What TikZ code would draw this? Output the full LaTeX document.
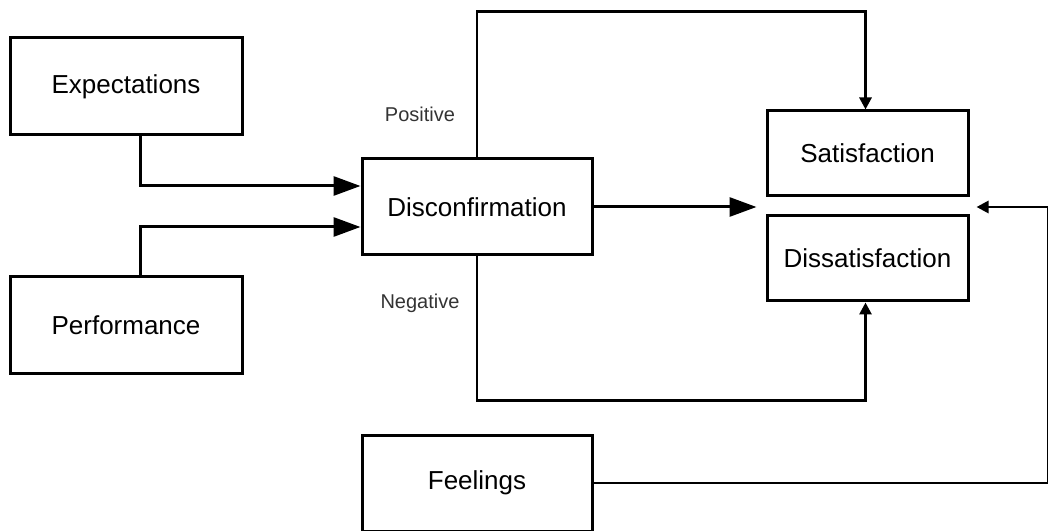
\documentclass[tikz,border=0pt]{standalone}
\usepackage{fontspec}
\setmainfont{Liberation Sans}
\usetikzlibrary{arrows.meta}
\tikzset{
    box/.style={draw, line width=3pt, minimum width=232pt, minimum height=97pt, inner sep=0pt, font=\fontsize{26}{30}\selectfont},
    resbox/.style={box, minimum width=201pt, minimum height=85pt},
    bigarrow/.style={line width=3pt, -{Triangle[length=27pt,width=19pt]}},
    thinarrow/.style={line width=2.8pt, -{Triangle[length=12pt,width=12pt]}},
    tag/.style={font=\fontsize{20}{24}\selectfont, text=black!80}
}
\begin{document}
\begin{tikzpicture}[x=1pt,y=1pt]
    \useasboundingbox (0,0) rectangle (1048,530);

    % Riquadri
    \node[box] (expect) at (126,443.5) {Expectations};
    \node[box] (perform) at (126,205) {Performance};
    \node[box, minimum width=230pt, minimum height=96pt] (disc) at (477,323) {Disconfirmation};
    \node[resbox] (sat) at (867.5,376.5) {Satisfaction};
    \node[resbox] (dissat) at (867.5,271.5) {Dissatisfaction};
    \node[box, minimum width=230pt, minimum height=96pt] (feel) at (477,47) {Feelings};

    % Ingressi
    \draw[bigarrow] ([xshift=14pt]expect.south) |- ([yshift=21pt]disc.west);
    \draw[bigarrow] ([xshift=14pt]perform.north) |- ([yshift=-20pt]disc.west);

    % Uscite
    \coordinate (gapL) at ([xshift=-9pt]sat.south west |- disc.east);
    \coordinate (gapR) at ([xshift=7pt]sat.south east |- disc.east);
    \draw[bigarrow] (disc.east) -- (gapL);
    \draw[thinarrow] (disc.north) -- ++(0,146) -| ([xshift=-2pt]sat.north);
    \draw[thinarrow] (disc.south) -- ++(0,-144) -| ([xshift=-2pt]dissat.south);
    \draw[thinarrow] (feel.east) -- ++(455,0) |- (gapR);

    % Etichette
    \node[tag] (pos) at (420,416) {Positive};
    \node[tag] (neg) at (420,227) {Negative};
\end{tikzpicture}
\end{document}
